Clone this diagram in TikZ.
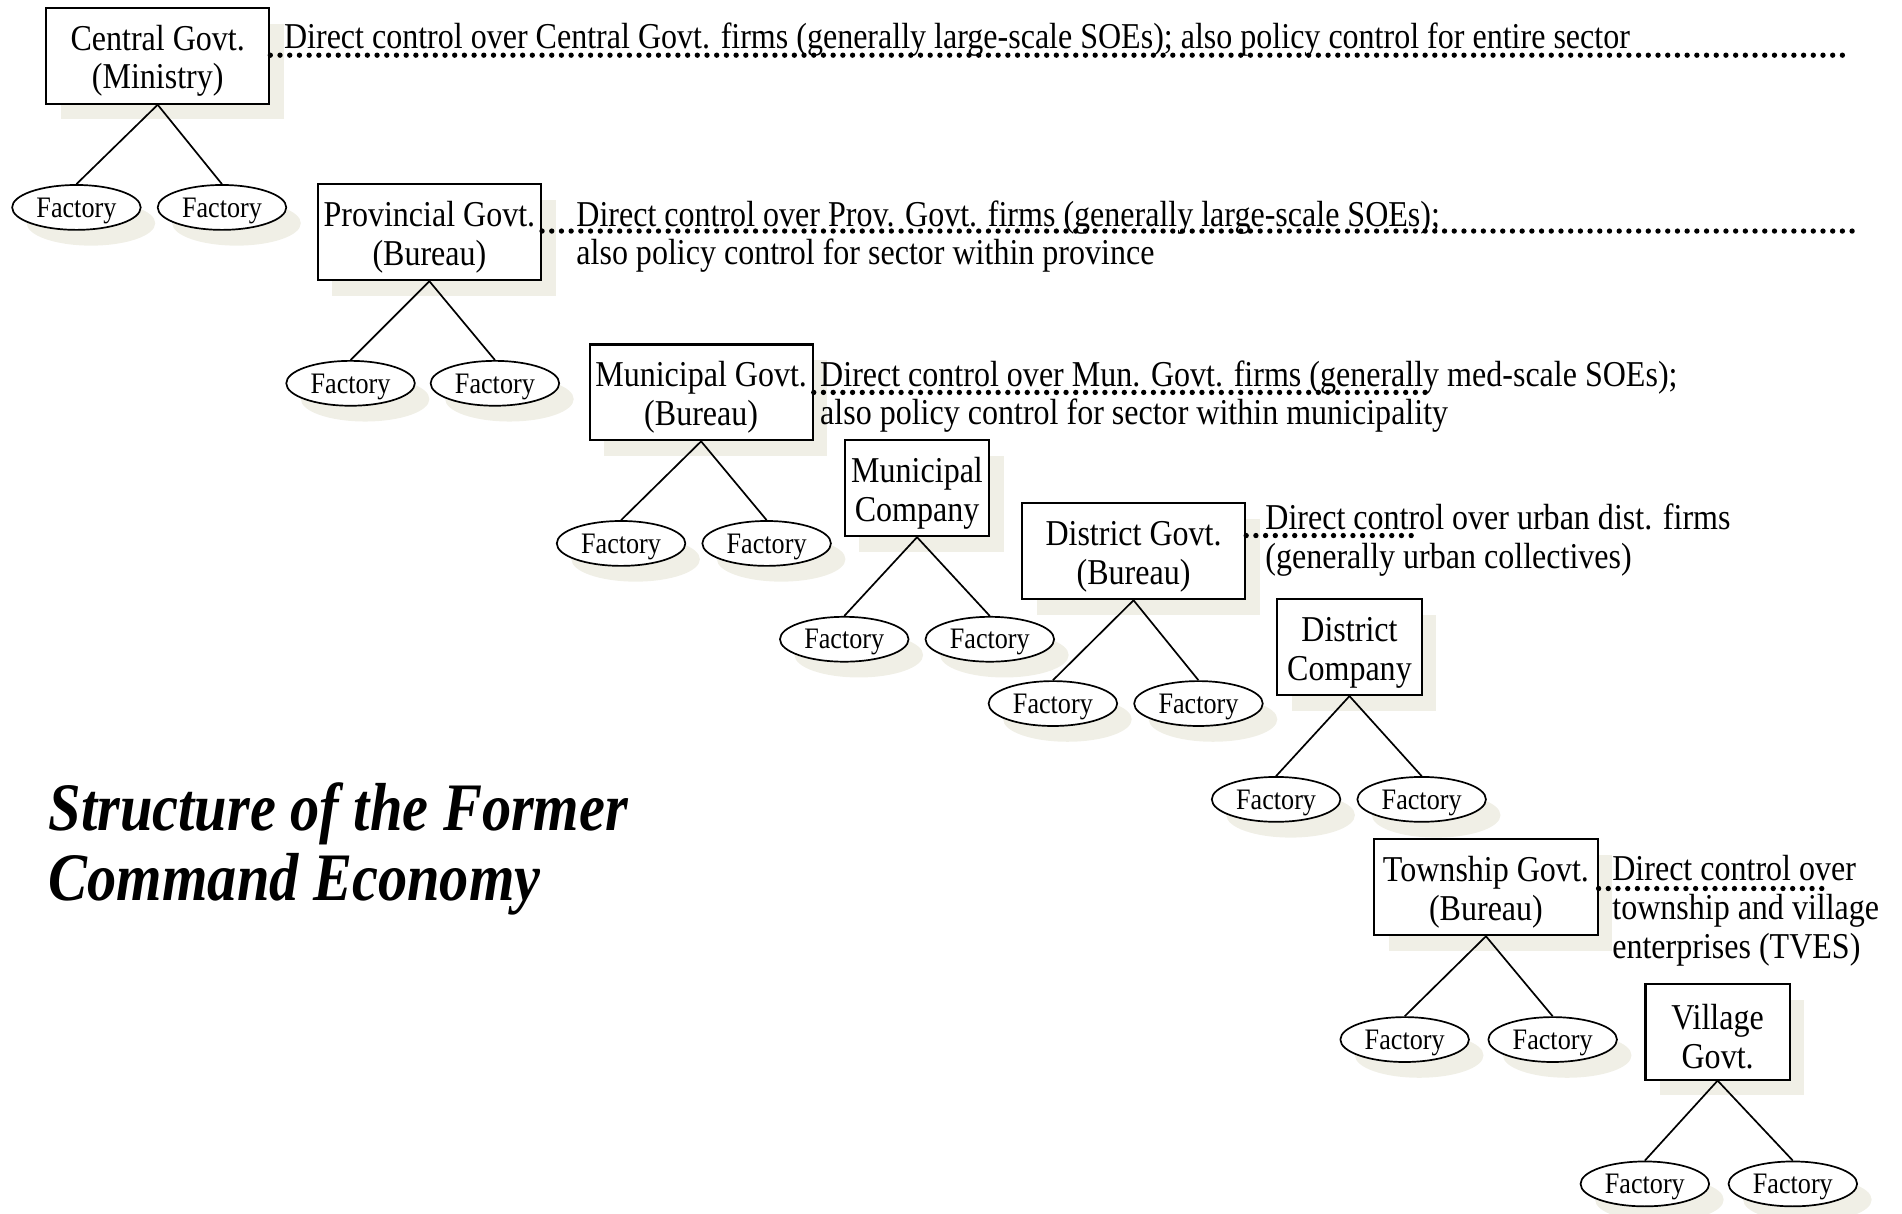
\documentclass[tikz,border=0pt]{standalone}
\usepackage{fontspec}
\setmainfont{Liberation Serif}[FakeStretch=0.88]
\newfontfamily\titlefont{Liberation Serif}[FakeStretch=0.86]
\usetikzlibrary{shapes.geometric,shadows}
\definecolor{shadowc}{HTML}{F0EFE6}
\newcommand{\tup}{\rule{0pt}{29pt}}
\tikzset{
  shad/.style={drop shadow={shadow xshift=12pt, shadow yshift=-13pt, fill=shadowc, opacity=1}},
  govbox/.style={draw, line width=1.7pt, fill=white, minimum height=79pt, inner sep=0pt,
    align=center, font=\fontsize{30}{32}\selectfont, shad},
  wide/.style={minimum width=184pt},
  narrow/.style={minimum width=119pt},
  factory/.style={draw, ellipse, line width=1.4pt, fill=white, minimum width=106pt,
    minimum height=37pt, inner sep=0pt, text depth=0pt, font=\fontsize{24.5}{26}\selectfont, shad},
  desc/.style={anchor=west, inner sep=0pt, align=left, font=\fontsize{30}{32}\selectfont},
  dotline/.style={line width=4.4pt, line cap=round, dash pattern=on 0pt off 8pt},
  link/.style={line width=1.4pt}
}
\begin{document}
\begin{tikzpicture}[x=1pt,y=-1pt]
\useasboundingbox (0,0) rectangle (1568,1000);
% Central
\node[govbox,wide] (cen) at (130,46) {\tup Central Govt.\\(Ministry)};
\node[factory] (cf1) at (63,171) {Factory};
\node[factory] (cf2) at (183,171) {Factory};
\draw[link] (cen.south) -- (cf1.north);
\draw[link] (cen.south) -- (cf2.north);
\coordinate (d1) at (1522,45.5);
\draw[dotline] (cen.east |- d1) -- (d1);
\node[desc] (t1) at (234,33) {Direct control over Central Govt. firms (generally large-scale SOEs); also policy control for entire sector};
% Provincial
\node[govbox,wide] (pro) at (354,191.5) {\tup Provincial Govt.\\(Bureau)};
\node[factory] (pf1) at (289,316) {Factory};
\node[factory] (pf2) at (408,316) {Factory};
\draw[link] (pro.south) -- (pf1.north);
\draw[link] (pro.south) -- (pf2.north);
\coordinate (d2) at (1528,190.5);
\draw[dotline] (pro.east |- d2) -- (d2);
\node[desc] (t2) at (475,195) {Direct control over Prov. Govt. firms (generally large-scale SOEs);\\also policy control for sector within province};
% Municipal Govt
\node[govbox,wide] (mun) at (578,323.5) {\tup Municipal Govt.\\(Bureau)};
\node[factory] (mf1) at (512,448) {Factory};
\node[factory] (mf2) at (632,448) {Factory};
\draw[link] (mun.south) -- (mf1.north);
\draw[link] (mun.south) -- (mf2.north);
\coordinate (d3) at (1178,323.5);
\draw[dotline] (mun.east |- d3) -- (d3);
\node[desc] (t3) at (676,327) {Direct control over Mun. Govt. firms (generally med-scale SOEs);\\also policy control for sector within municipality};
% Municipal Company
\node[govbox,narrow] (mco) at (756,402.5) {\tup Municipal\\Company};
\node[factory] (mcf1) at (696,527) {Factory};
\node[factory] (mcf2) at (816,527) {Factory};
\draw[link] (mco.south) -- (mcf1.north);
\draw[link] (mco.south) -- (mcf2.north);
% District Govt
\node[govbox,wide] (dis) at (934.5,454.5) {\tup District Govt.\\(Bureau)};
\node[factory] (df1) at (868,580) {Factory};
\node[factory] (df2) at (988,580) {Factory};
\draw[link] (dis.south) -- (df1.north);
\draw[link] (dis.south) -- (df2.north);
\coordinate (d4) at (1168,441.5);
\draw[dotline] (dis.east |- d4) -- (d4);
\node[desc] (t4) at (1043,445) {Direct control over urban dist. firms\\(generally urban collectives)};
% District Company
\node[govbox,narrow] (dco) at (1112.5,533.5) {\tup District\\Company};
\node[factory] (dcf1) at (1052,659) {Factory};
\node[factory] (dcf2) at (1172,659) {Factory};
\draw[link] (dco.south) -- (dcf1.north);
\draw[link] (dco.south) -- (dcf2.north);
% Township Govt
\node[govbox,wide] (tow) at (1225,731.5) {\tup Township Govt.\\(Bureau)};
\node[factory] (tf1) at (1158,857) {Factory};
\node[factory] (tf2) at (1280,857) {Factory};
\draw[link] (tow.south) -- (tf1.north);
\draw[link] (tow.south) -- (tf2.north);
\coordinate (d5) at (1508,732.5);
\draw[dotline] (tow.east |- d5) -- (d5);
\node[desc] (t5) at (1329,751) {Direct control over\\township and village\\enterprises (TVES)};
% Village Govt
\node[govbox,narrow] (vil) at (1416,850.5) {\tup Village\\Govt.};
\node[factory] (vf1) at (1356,976) {Factory};
\node[factory] (vf2) at (1478,976) {Factory};
\draw[link] (vil.south) -- (vf1.north);
\draw[link] (vil.south) -- (vf2.north);
% Title
\node[anchor=west, inner sep=0pt, align=left, font=\titlefont\fontsize{56}{58}\selectfont\bfseries\itshape] (title) at (40,700) {Structure of the Former\\Command Economy};
\end{tikzpicture}
\end{document}
